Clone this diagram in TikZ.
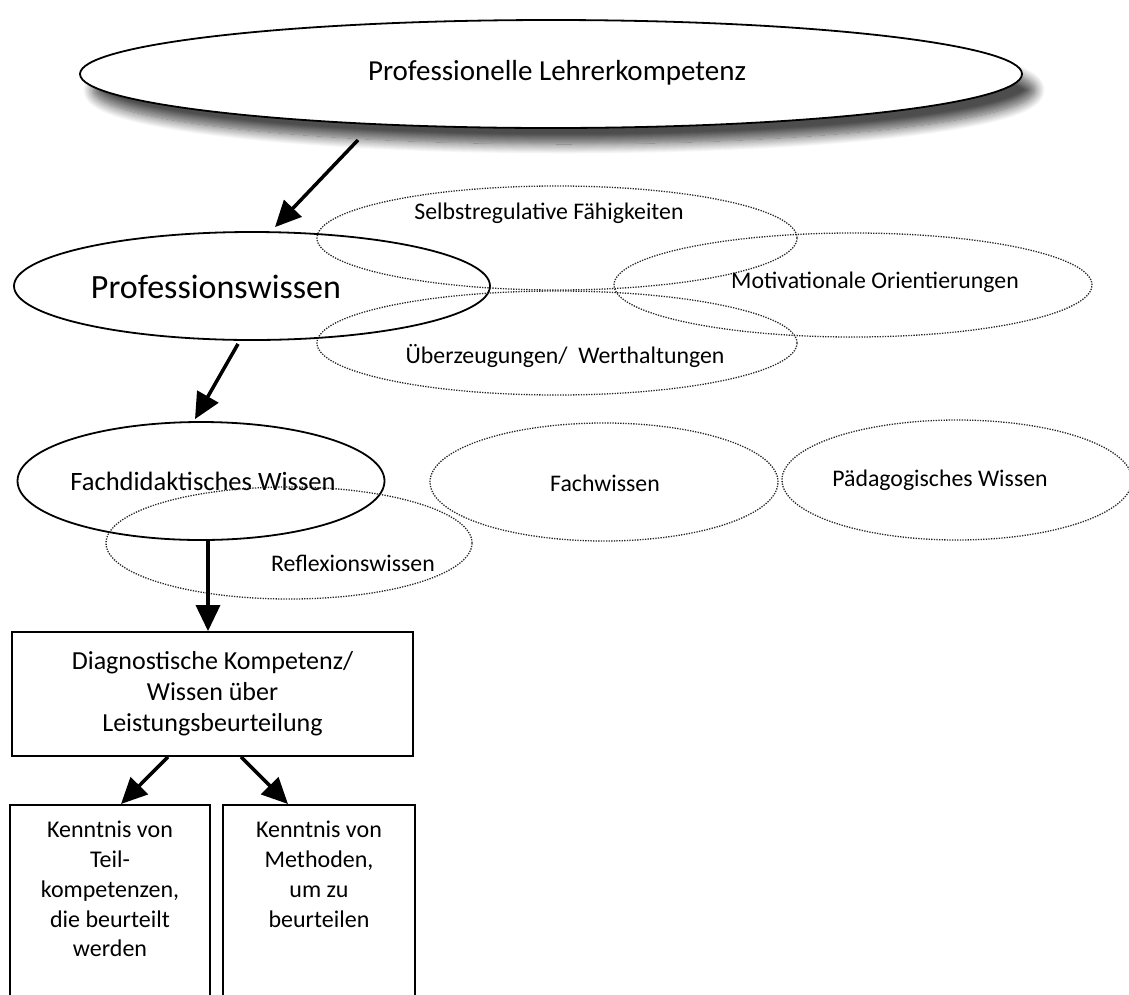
\documentclass[tikz,border=0pt]{standalone}
\usepackage{fontspec}
\setmainfont{Carlito}
\usetikzlibrary{shapes.geometric,arrows.meta,shadows.blur}
\begin{document}
\begin{tikzpicture}[x=1pt,y=-1pt,
  solidell/.style={ellipse, draw, line width=1.8pt, inner sep=0pt},
  dotell/.style={ellipse, draw=black!85, line width=1.3pt, dash pattern=on 1.3pt off 1.3pt, inner sep=0pt},
  smalltxt/.style={font=\fontsize{23.8}{28}\selectfont, inner sep=0pt},
  toptxt/.style={font=\fontsize{29}{34}\selectfont, inner sep=0pt},
  midtxt/.style={font=\fontsize{26.5}{31}\selectfont, inner sep=0pt},
  bigtxt/.style={font=\fontsize{34}{40}\selectfont, inner sep=0pt},
  boxtxt/.style={font=\fontsize{24}{29.8}\selectfont, inner sep=0pt, align=center},
  framebox/.style={draw, line width=1.8pt, inner sep=0pt},
  arr/.style={line width=3.5pt, -{Triangle[length=26pt,width=24pt]}}
]
\useasboundingbox (0,0) rectangle (1129,994);
\clip (0,0) rectangle (1129,994);

% top ellipse with shadow
\node[solidell, fill=white, minimum width=942pt, minimum height=108pt,
      blur shadow={shadow xshift=13pt, shadow yshift=-16pt, shadow blur radius=10pt, shadow blur steps=14, shadow opacity=70}]
      (top) at (551,74) {};
\node[toptxt] (topt) at (557,73) {Professionelle Lehrerkompetenz};

% Professionswissen and dotted companions
\node[solidell, minimum width=476pt, minimum height=108pt] (pw) at (252,286) {};
\node[bigtxt] (pwt) at (216,287) {Professionswissen};

\node[dotell, minimum width=480pt, minimum height=104pt] (sr) at (557,238) {};
\node[smalltxt] (srt) at (549,213) {Selbstregulative Fähigkeiten};

\node[dotell, minimum width=478pt, minimum height=104pt] (mo) at (853,285) {};
\node[smalltxt] (mot) at (875,282) {Motivationale Orientierungen};

\node[dotell, minimum width=480pt, minimum height=104pt] (ue) at (557,343) {};
\node[smalltxt] (uet) at (565,356) {Überzeugungen/\ \ Werthaltungen};

% Fachdidaktisches Wissen row
\node[solidell, minimum width=367pt, minimum height=118pt] (fd) at (201,481) {};
\node[midtxt] (fdt) at (203,481) {Fachdidaktisches Wissen};

\node[dotell, minimum width=366pt, minimum height=112pt] (rw) at (289,543) {};
\node[smalltxt] (rwt) at (353,563) {Reflexionswissen};

\node[dotell, minimum width=348pt, minimum height=118pt] (fw) at (604,482) {};
\node[smalltxt] (fwt) at (605,483) {Fachwissen};

\node[dotell, minimum width=350pt, minimum height=120pt] (pd) at (957,480) {};
\node[smalltxt] (pdt) at (940,480) {Pädagogisches Wissen};

% boxes
\node[framebox, minimum width=401pt, minimum height=124pt, align=center,
      font=\fontsize{26}{31}\selectfont] (dk) at (212.5,694)
      {Diagnostische Kompetenz/\\Wissen über\\Leistungsbeurteilung};

\node[framebox, minimum width=200pt, minimum height=230pt, anchor=north] (k1) at (110,804) {};
\node[boxtxt, anchor=north] (k1t) at ([yshift=-17pt]k1.north)
      {Kenntnis von\\Teil-\\kompetenzen,\\die beurteilt\\werden};

\node[framebox, minimum width=192pt, minimum height=230pt, anchor=north] (k2) at (319,804) {};
\node[boxtxt, anchor=north] (k2t) at ([yshift=-17pt]k2.north)
      {Kenntnis von\\Methoden,\\um zu\\beurteilen};

% arrows
\draw[arr] ([xshift=-193pt,yshift=-66pt]top.center) -- ([xshift=23pt,yshift=4pt]pw.north);
\draw[arr] ([xshift=-14pt,yshift=-3pt]pw.south) -- ([xshift=-6pt,yshift=2pt]fd.north);
\draw[arr] ([xshift=7pt]fd.south) -- ([xshift=-4.5pt]dk.north);
\draw[arr] ([xshift=-44.5pt]dk.south) -- ([xshift=11pt]k1.north);
\draw[arr] ([xshift=28.5pt]dk.south) -- ([xshift=-31pt]k2.north);
\end{tikzpicture}
\end{document}
